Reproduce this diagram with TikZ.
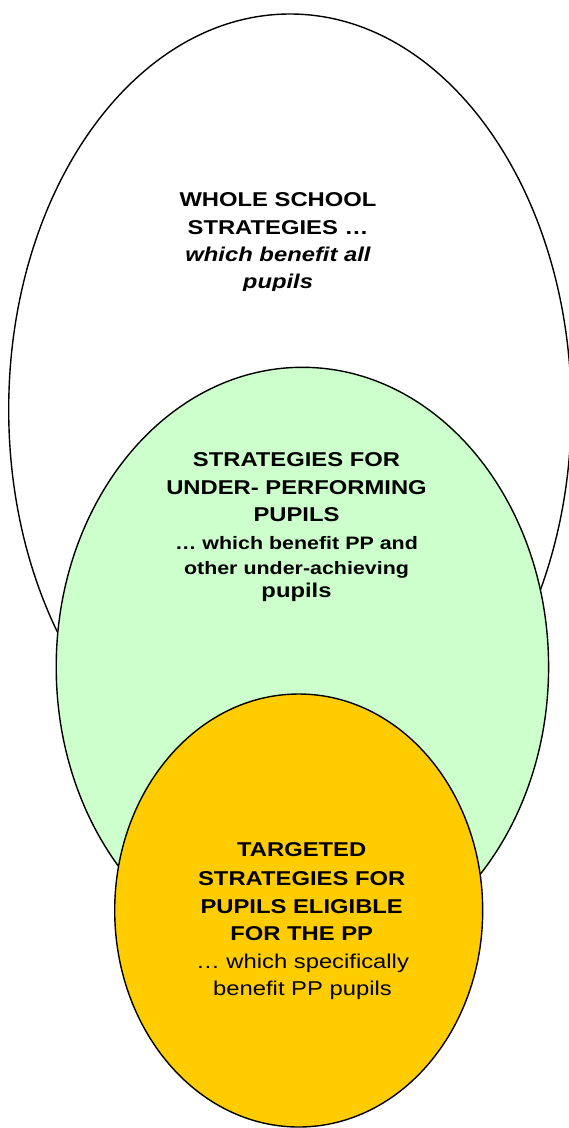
\documentclass[tikz,border=0pt]{standalone}
\usepackage{fontspec}
\setmainfont[FakeStretch=1.19]{Liberation Sans}
\usetikzlibrary{shapes.geometric}
\definecolor{paleGreen}{HTML}{CCFFCC}
\definecolor{goldFill}{HTML}{FFCC00}
\begin{document}
\begin{tikzpicture}[x=1pt,y=-1pt,
  venn/.style={ellipse, draw=black, line width=1.4pt, inner sep=0pt, outer sep=0pt},
  bigtxt/.style={font=\fontsize{20}{24}\selectfont\bfseries, anchor=base, inner sep=0pt},
  bigit/.style={font=\fontsize{20}{24}\selectfont\bfseries\itshape, anchor=base, inner sep=0pt},
  midtxt/.style={font=\fontsize{18}{22}\selectfont\bfseries, anchor=base, inner sep=0pt},
  regtxt/.style={font=\fontsize{20}{24}\selectfont, anchor=base, inner sep=0pt}]
\useasboundingbox (0,0) rectangle (569,1128);
\fill[white] (0,0) rectangle (569,1128);
% whole school
\node[venn, fill=white, minimum width=562.6pt, minimum height=791pt] (whole) at (290,409.5) {};
\begin{scope}
\clip (0,0) rectangle (569,290);
\node[bigtxt] (w1) at (278,206.7) {WHOLE SCHOOL};
\node[bigtxt] (w2) at (278,234) {STRATEGIES …};
\node[bigit] (w3) at (278,261) {which benefit all};
\node[bigit] (w4) at (278,288) {pupils};
\end{scope}
% under-performing
\node[venn, fill=paleGreen, minimum width=492.4pt, minimum height=599.4pt] (under) at (302.4,667) {};
\node[bigtxt] (g1) at (296.5,466.7) {STRATEGIES FOR};
\node[bigtxt] (g2) at (296.5,494) {UNDER- PERFORMING};
\node[bigtxt] (g3) at (296.5,521.7) {PUPILS};
\node[midtxt] (g4) at (296.5,549) {… which benefit PP and};
\node[midtxt] (g5) at (296.5,574) {other under-achieving};
\node[bigtxt] (g6) at (296.5,597) {pupils};
% targeted
\node[venn, fill=goldFill, minimum width=368pt, minimum height=433pt] (target) at (298.7,910.5) {};
\node[bigtxt] (y1) at (301.7,856.7) {TARGETED};
\node[bigtxt] (y2) at (301.7,885) {STRATEGIES FOR};
\node[bigtxt] (y3) at (301.7,913) {PUPILS ELIGIBLE};
\node[bigtxt] (y4) at (301.7,940.3) {FOR THE PP};
\node[regtxt] (y5) at (302.5,968.3) {… which specifically};
\node[regtxt] (y6) at (302.5,995) {benefit PP pupils};
\end{tikzpicture}
\end{document}
